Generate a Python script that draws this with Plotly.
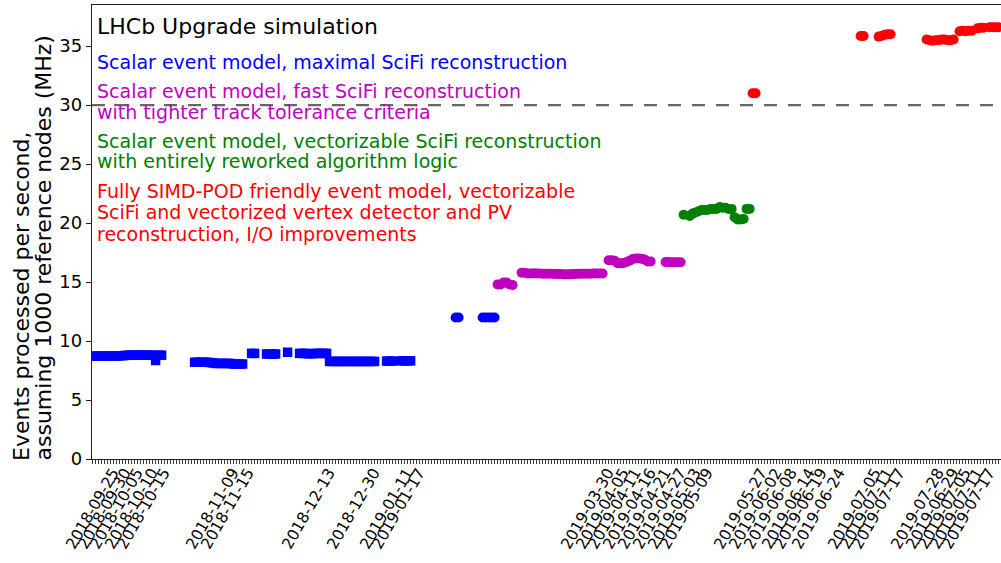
import plotly.graph_objects as go

# ---------------- data (x = run index along the axis) ----------------
blue_sq_x = list(range(0, 24)) + list(range(34, 51)) + [53, 54, 58, 59, 60, 61, 65] + \
    list(range(69, 79)) + list(range(79, 95)) + [98, 99, 100, 103, 104, 105, 106]
blue_sq_y = [8.72, 8.72, 8.72, 8.72, 8.72, 8.72, 8.72, 8.74, 8.74, 8.75, 8.76, 8.78,
             8.8, 8.8, 8.8, 8.8, 8.8, 8.8, 8.8, 8.8, 8.8, 8.35, 8.8, 8.8,
             8.2, 8.2, 8.2, 8.2, 8.2, 8.18, 8.15, 8.1, 8.1, 8.1, 8.1, 8.1, 8.1, 8.05, 8.05, 8.05, 8.05,
             8.95, 8.95, 8.9, 8.9, 8.9, 8.9, 9.05,
             8.95, 8.95, 8.95, 8.92, 8.92, 8.95, 8.95, 8.95, 8.95, 8.95,
             8.27, 8.27, 8.27, 8.27, 8.27, 8.27, 8.27, 8.27, 8.27, 8.27, 8.27, 8.27, 8.27, 8.27, 8.27, 8.27,
             8.3, 8.3, 8.3, 8.32, 8.32, 8.32, 8.32]

blue_ci_x = [121, 122, 130, 131, 132, 133, 134]
blue_ci_y = [12.0, 12.0, 12.0, 12.0, 12.0, 12.0, 12.0]

mag_x = list(range(135, 141)) + list(range(143, 171)) + list(range(172, 187)) + list(range(191, 197))
mag_y = [14.8, 14.8, 14.95, 14.95, 14.8, 14.75,
         15.78, 15.78, 15.72, 15.72, 15.75, 15.72, 15.72, 15.7, 15.7, 15.7, 15.7, 15.68, 15.68, 15.68,
         15.65, 15.65, 15.65, 15.68, 15.68, 15.7, 15.7, 15.7, 15.7, 15.7, 15.72, 15.72, 15.72, 15.72,
         16.85, 16.85, 16.8, 16.6, 16.6, 16.62, 16.7, 16.8, 16.95, 17.0, 17.0, 16.98, 16.9, 16.75, 16.75,
         16.7, 16.7, 16.68, 16.68, 16.68, 16.68]

green_x = [197, 199, 200, 201, 202, 203, 204, 205, 206, 207, 208, 209, 210, 211, 212, 213,
           214, 215, 216, 217, 218, 219]
green_y = [20.7, 20.6, 20.8, 20.9, 21.0, 21.1, 21.1, 21.1, 21.2, 21.2, 21.2, 21.35, 21.3, 21.3, 21.2, 21.2,
           20.5, 20.3, 20.3, 20.35, 21.2, 21.2]

red_x = [220, 221, 256, 257, 262, 263, 264, 265, 266] + list(range(278, 288)) + \
    list(range(289, 294)) + [295, 296, 297, 299, 300, 301, 302]
red_y = [31.0, 31.0, 35.85, 35.85, 35.8, 35.85, 35.95, 36.0, 36.0,
         35.55, 35.5, 35.45, 35.5, 35.5, 35.55, 35.55, 35.5, 35.5, 35.55,
         36.25, 36.3, 36.25, 36.3, 36.3, 36.5, 36.55, 36.55, 36.6, 36.6, 36.6, 36.6]

date_tick_pos = [0, 4, 8, 13, 17, 40, 45, 72, 87, 98, 102,
                 165, 170, 174, 179, 184, 189, 194, 198,
                 216, 221, 226, 232, 236, 242, 254, 258, 262,
                 275, 280, 284, 288, 292]
date_tick_text = ["2018-09-25", "2018-09-30", "2018-10-05", "2018-10-10", "2018-10-15",
                  "2018-11-09", "2018-11-15", "2018-12-13", "2018-12-30", "2019-01-11", "2019-01-17",
                  "2019-03-30", "2019-04-05", "2019-04-11", "2019-04-16", "2019-04-21", "2019-04-27",
                  "2019-05-03", "2019-05-09",
                  "2019-05-27", "2019-06-02", "2019-06-08", "2019-06-14", "2019-06-19", "2019-06-24",
                  "2019-07-05", "2019-07-11", "2019-07-17",
                  "2019-07-28", "2019-06-29", "2019-07-05", "2019-07-11", "2019-07-17"]

y_ticks = [0, 5, 10, 15, 20, 25, 30, 35]
reference_rate = 30

# ---------------- figure ----------------
W, H = 1001, 563
ML, MR, MT, MB = 92, 0, 5, 104
PH = H - MT - MB


def py(px):  # pixel row -> paper y
    return (H - MB - px) / PH


fig = go.Figure()
fig.add_trace(go.Scatter(x=blue_sq_x, y=blue_sq_y, mode="markers",
                         marker=dict(symbol="square", size=9.5, color="#0000ff", line=dict(width=0))))
fig.add_trace(go.Scatter(x=blue_ci_x, y=blue_ci_y, mode="markers",
                         marker=dict(symbol="circle", size=10, color="#0000ff", line=dict(width=0))))
fig.add_trace(go.Scatter(x=mag_x, y=mag_y, mode="markers",
                         marker=dict(symbol="circle", size=10, color="#bf00bf", line=dict(width=0))))
fig.add_trace(go.Scatter(x=green_x, y=green_y, mode="markers",
                         marker=dict(symbol="circle", size=10, color="#008000", line=dict(width=0))))
fig.add_trace(go.Scatter(x=red_x, y=red_y, mode="markers",
                         marker=dict(symbol="circle", size=10, color="#ff0000", line=dict(width=0))))

fig.add_shape(type="line", xref="paper", x0=0, x1=1, yref="y", y0=reference_rate, y1=reference_rate,
              line=dict(color="#666666", width=2.2, dash="13px,11px"), layer="below")

annotations = []
for pos, txt in zip(date_tick_pos, date_tick_text):
    annotations.append(dict(x=pos, xref="x", y=0, yref="paper", yshift=-4, text=txt,
                            textangle=-60, xanchor="center", yanchor="top", showarrow=False,
                            font=dict(family="DejaVu Sans", size=15.5, color="black")))

text_lines = [
    ("LHCb Upgrade simulation", "black", 22, 26.4),
    ("Scalar event model, maximal SciFi reconstruction", "#0000ff", 19, 62.4),
    ("Scalar event model, fast SciFi reconstruction", "#bf00bf", 19, 91.4),
    ("with tighter track tolerance criteria", "#bf00bf", 19, 112.4),
    ("Scalar event model, vectorizable SciFi reconstruction", "#008000", 19, 141.4),
    ("with entirely reworked algorithm logic", "#008000", 19, 161.4),
    ("Fully SIMD-POD friendly event model, vectorizable", "#ff0000", 19, 191.4),
    ("SciFi and vectorized vertex detector and PV", "#ff0000", 19, 212.4),
    ("reconstruction, I/O improvements", "#ff0000", 19, 234.4),
]
for txt, col, size, ypx in text_lines:
    annotations.append(dict(x=0, xref="paper", xshift=3, y=py(ypx), yref="paper", text=txt,
                            xanchor="left", yanchor="middle", showarrow=False, align="left",
                            font=dict(family="DejaVu Sans", size=size, color=col)))

for txt, xpx in [("Events processed per second,", 21), ("assuming 1000 reference nodes (MHz)", 43)]:
    annotations.append(dict(x=0, xref="paper", xshift=xpx - ML, y=0, yref="paper", yshift=-4,
                            text=txt, textangle=-90, xanchor="center", yanchor="bottom",
                            showarrow=False, font=dict(family="DejaVu Sans", size=22, color="black")))

fig.update_layout(
    width=W, height=H, margin=dict(l=ML, r=MR, t=MT, b=MB),
    plot_bgcolor="white", paper_bgcolor="white", showlegend=False,
    font=dict(family="DejaVu Sans", color="black"),
    annotations=annotations,
    xaxis=dict(range=[-0.2, 302.8], tickvals=list(range(0, 303)), showticklabels=False,
               ticks="outside", ticklen=4, tickwidth=1, tickcolor="#333333",
               showline=True, linecolor="#222222", linewidth=1.3, mirror=True,
               showgrid=False, zeroline=False),
    yaxis=dict(range=[0, 38.48], tickvals=y_ticks, ticks="outside", ticklen=5, tickwidth=1.2,
               tickcolor="#222222", showline=True, linecolor="#222222", linewidth=1.3,
               showgrid=False, zeroline=False, tickfont=dict(size=18, family="DejaVu Sans")),
)

fig.write_html("out.html", config={"displayModeBar": False},
               post_script="document.body.style.margin='0';document.body.style.overflow='hidden';")
